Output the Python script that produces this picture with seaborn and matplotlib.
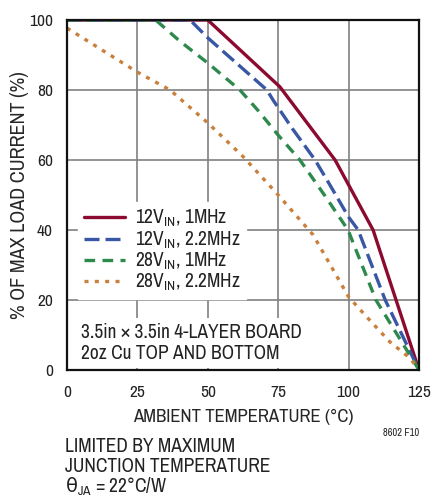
import matplotlib
matplotlib.use("Agg")
import numpy as np
import pandas as pd
import matplotlib.pyplot as plt
from matplotlib import font_manager
import seaborn as sns

# curves (ambient temperature degC, % of max load current)
red_t = [0, 50, 75.6, 95.2, 108.7, 125]
red_i = [100, 100, 80.9, 60, 40, 0]

blue_t = [0, 43.7, 50, 60, 71, 73.2, 80, 88.1, 94, 100, 103.4, 113, 125]
blue_i = [100, 100, 94.9, 87.8, 80, 77.1, 69, 60, 52, 43.7, 40, 20, 0]

green_t = [0, 31.5, 40, 50, 61.4, 68, 75, 82.7, 92, 99.8, 109.7, 125]
green_i = [100, 100, 94, 87.7, 80, 74, 67.1, 60, 49.3, 40, 20, 0]

orange_t = [0, 25, 36.6, 50, 62.5, 75, 87.4, 100, 106.5, 114.7, 121.8, 125]
orange_i = [97.7, 85.1, 80, 70.6, 61, 50, 38.6, 20.9, 15.1, 8, 3.4, 0]

labels = [r"12V$_\mathregular{IN}$, 1MHz", r"12V$_\mathregular{IN}$, 2.2MHz",
          r"28V$_\mathregular{IN}$, 1MHz", r"28V$_\mathregular{IN}$, 2.2MHz"]
colors = ["#8c0a30", "#3a57a5", "#2e8a4c", "#c8803c"]
styles = ["-", (0, (4.5, 1.8)), (0, (3.2, 2.2)), (0, (1.2, 1.9))]

xticks = [0, 25, 50, 75, 100, 125]
yticks = [0, 20, 40, 60, 80, 100]

# look for a narrow sans face, like the condensed Helvetica of the original
narrow = None
for f in font_manager.fontManager.ttflist:
    if ("Narrow" in f.name or "Condensed" in f.name) and "Mono" not in f.name:
        narrow = f.name
        break
fams = ([narrow] if narrow else []) + ['DejaVu Sans']
stretch = 'normal' if narrow else 'condensed'

sns.set_theme(style="white")
plt.rcParams['font.family'] = fams
plt.rcParams['font.stretch'] = stretch
plt.rcParams['mathtext.fontset'] = 'custom'
plt.rcParams['mathtext.rm'] = 'DejaVu Sans'
plt.rcParams['text.color'] = '#222222'

series = [(red_t, red_i), (blue_t, blue_i), (green_t, green_i), (orange_t, orange_i)]

fig = plt.figure(figsize=(4.34, 4.98), dpi=100)
ax = fig.add_axes([67/434, 1-370/498, 352/434, 350/498])

# grid below the white boxes, ticks above them
for v in yticks[1:-1]:
    ax.axhline(v, color="#808080", lw=1.2, zorder=0.5)
for v in xticks[1:-1]:
    ax.axvline(v, color="#808080", lw=1.2, zorder=0.5)

for (t, i), lab, c, ls in zip(series, labels, colors, styles):
    df = pd.DataFrame({"temp": t, "cur": i})
    sns.lineplot(data=df, x="temp", y="cur", ax=ax, color=c, lw=2.4,
                 linestyle=ls, label=lab, zorder=2)

ax.set_xlim(0, 125)
ax.set_ylim(0, 100)
ax.set_xticks(xticks)
ax.set_yticks(yticks)
ax.tick_params(direction="in", length=5, width=1, color="#444444",
               labelsize=12.5, labelcolor="#222222")
ax.tick_params(axis="x", pad=11)
ax.tick_params(axis="y", pad=10)
for s in ax.spines.values():
    s.set_color("#111111")
    s.set_linewidth(1.6)

ax.set_xlabel("AMBIENT TEMPERATURE (°C)", fontsize=13.5, labelpad=6)
ax.set_ylabel("% OF MAX LOAD CURRENT (%)", fontsize=14.5, labelpad=0)

leg = ax.legend(loc="upper left", bbox_to_anchor=(0.005, 0.507), frameon=True,
                fancybox=False, framealpha=1, edgecolor="white", fontsize=14,
                handlelength=2.1, handletextpad=0.5, labelspacing=0.0,
                borderpad=0.3)
leg.set_zorder(1)

ax.text(0.04, 0.077, "3.5in × 3.5in 4-LAYER BOARD\n2oz Cu TOP AND BOTTOM",
        transform=ax.transAxes, fontsize=14, va="center", ha="left",
        linespacing=1.1, zorder=1,
        bbox=dict(facecolor="white", edgecolor="none", pad=4))

fig.text(419/434, 1-433/498, "8602 F10", fontsize=7.5, ha="right", va="center")
fig.text(65/434, 1-446/498, "LIMITED BY MAXIMUM", fontsize=14, ha="left", va="center")
fig.text(65/434, 1-466/498, "JUNCTION TEMPERATURE", fontsize=14, ha="left", va="center")
fig.text(65/434, 1-487/498, r"$\mathrm{\theta}_\mathregular{JA}$ = 22°C/W", fontsize=14,
         ha="left", va="center")

fig.savefig("out.png", dpi=100)
